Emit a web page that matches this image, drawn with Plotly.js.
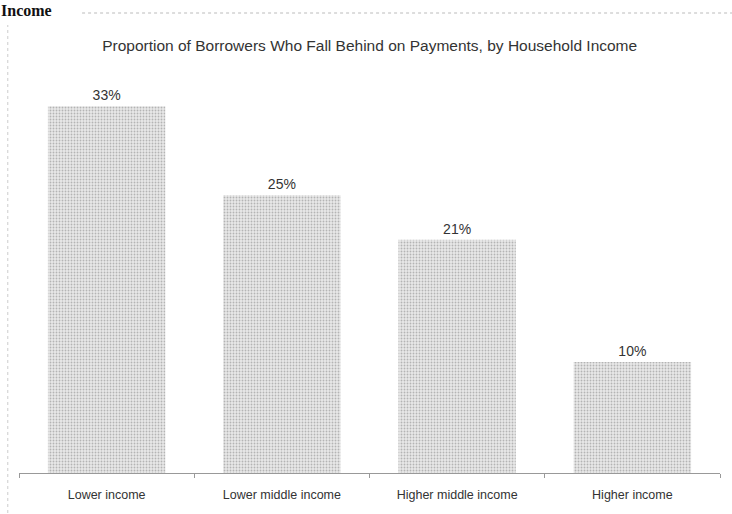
<!DOCTYPE html>
<html><head><meta charset="utf-8">
<script src="https://cdn.plot.ly/plotly-3.0.1.min.js"></script>
<style>body{margin:0;background:#fff}#c{width:732px;height:514px}</style>
</head><body><div id="c"></div>
<script>
const categories = ["Lower income", "Lower middle income", "Higher middle income", "Higher income"];
const shares = [33, 25, 21, 10];
const labels = ["33%", "25%", "21%", "10%"];

const trace = {
  type: 'bar', x: categories, y: shares,
  text: labels, textposition: 'outside', cliponaxis: false,
  textfont: {family: 'Liberation Sans, Arial', size: 14, color: '#333'},
  marker: {color: '#dcdcdc', line: {width: 0},
    pattern: {shape: '.', fgcolor: '#b4b4b4', bgcolor: '#e9e9e9', size: 3, solidity: 0.3}},
  hoverinfo: 'none'
};
const layout = {
  width: 732, height: 514,
  margin: {l: 19, r: 12, t: 73, b: 41},
  paper_bgcolor: '#fff', plot_bgcolor: '#fff',
  bargap: 0.33,
  showlegend: false,
  title: {text: 'Proportion of Borrowers Who Fall Behind on Payments, by Household Income',
    font: {family: 'Liberation Sans, Arial', size: 15.5, color: '#333'}, x: 0.505, xanchor: 'center', y: 0.912, yanchor: 'middle'},
  xaxis: {showgrid: false, showline: true, linecolor: '#999', linewidth: 1,
    ticks: 'outside', tickson: 'boundaries', ticklen: 4, tickcolor: '#999',
    tickfont: {family: 'Liberation Sans, Arial', size: 12.5, color: '#333'}, ticklabelstandoff: 10},
  yaxis: {range: [0, 36], visible: false, showgrid: false, zeroline: false},
  annotations: [{text: '<b>Income</b>', xref: 'paper', yref: 'paper', x: -0.028, y: 1.182, xanchor: 'left', yanchor: 'top',
    showarrow: false, font: {family: 'Liberation Serif, Times New Roman', size: 16, color: '#111'}}],
  shapes: [
    {type: 'line', xref: 'paper', yref: 'paper', x0: 0.09, x1: 1.02, y0: 1.15, y1: 1.15, line: {color: '#bbb', width: 1, dash: 'dot'}},
    {type: 'line', xref: 'paper', yref: 'paper', x0: -0.016, x1: -0.016, y0: -0.1, y1: 1.12, line: {color: '#ccc', width: 1, dash: 'dot'}}
  ]
};
Plotly.newPlot('c', [trace], layout, {staticPlot: true, displayModeBar: false});
</script></body></html>
